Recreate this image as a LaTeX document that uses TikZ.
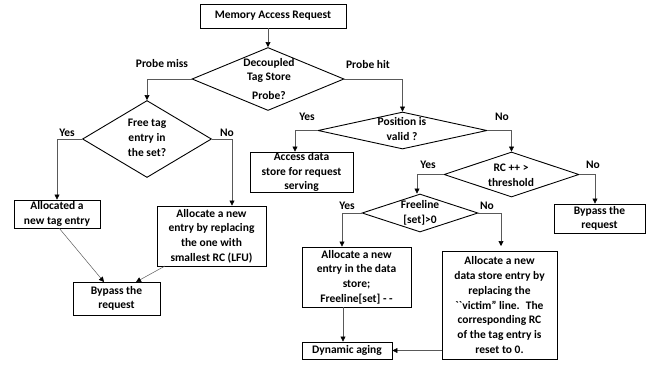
\documentclass[tikz,border=0pt]{standalone}
\usepackage{fontspec}
\setmainfont{Carlito}
\newfontfamily\rawfont[Ligatures=TeXOff]{Carlito}
\usetikzlibrary{shapes.geometric,arrows.meta}
\begin{document}
\begin{tikzpicture}[x=1pt,y=-1pt,
  font=\bfseries\fontsize{11.5}{14.7}\selectfont,
  box/.style={draw=black,line width=0.9pt,inner sep=0pt,align=center},
  dia/.style={draw=black,line width=0.9pt,diamond,inner sep=0pt},
  dtext/.style={align=center,inner sep=0pt},
  conn/.style={draw=black!65,line width=0.6pt,-{Triangle[black,length=5pt,width=5pt]}},
  lbl/.style={inner sep=0pt}]
\useasboundingbox (0,0) rectangle (651,365);
% top
\node[box,minimum width=146pt,minimum height=24pt] (mar) at (273,16) {Memory Access Request};
\node[dia,minimum width=152pt,minimum height=63pt] (dts) at (268,79) {};
\node[dtext] (dtst) at (269,79) {Decoupled\\[0pt]Tag Store\\[4pt]Probe?};
\draw[conn] (mar.south -| dts.north) -- (dts.north);
\node[lbl] (lmiss) at (162,64) {Probe miss};
\node[lbl] (lhit) at (368,65) {Probe hit};
% left branch
\node[dia,minimum width=129pt,minimum height=77pt] (ft) at (147,139) {};
\node[dtext] (ftt) at (147,138) {Free tag\\entry in\\the set?};
\draw[conn] (dts.west) -| (ft.north);
\node[lbl] (lyes1) at (67,133) {Yes};
\node[lbl] (lno1) at (227,133) {No};
\node[box,minimum width=86pt,minimum height=28pt] (ant) at (57,214) {Allocated a\\new tag entry};
\node[box,minimum width=109pt,minimum height=60pt] (anr) at (211.5,236) {Allocate a new\\entry by replacing\\the one with\\smallest RC (LFU)};
\node[box,minimum width=87pt,minimum height=33pt] (byl) at (116.5,298.5) {Bypass the\\request};
\coordinate (ftyes) at (57,139);
\coordinate (ftno) at (232,139);
\draw[conn] (ft.west) -- (ftyes) -- (ant.north);
\draw[conn] (ft.east) -- (ftno) -- (ftno |- anr.north);
\coordinate (antb) at (59,228);
\coordinate (byl1) at (104,282);
\coordinate (anrb) at (165,266);
\coordinate (byl2) at (136,282);
\draw[conn,line width=0.5pt] (antb) -- (byl1);
\draw[conn,line width=0.5pt] (anrb) -- (byl2);
% right branch
\node[dia,minimum width=169pt,minimum height=37pt] (pv) at (402.5,130.5) {};
\node[dtext] (pvt) at (402,129) {Position is\\valid ?};
\draw[conn] (dts.east) -| (pv.north);
\node[lbl] (lyes2) at (307,117) {Yes};
\node[lbl] (lno2) at (502,117) {No};
\node[box,minimum width=103pt,minimum height=40pt] (ads) at (301.5,172) {Access data\\store for request\\serving};
\coordinate (pvyes) at (295,130.5);
\draw[conn] (pv.west) -- (pvyes) -- (pvyes |- ads.north);
\node[dia,minimum width=135pt,minimum height=45pt] (rc) at (511.5,174.5) {};
\node[dtext] (rct) at (511,175) {RC ++ >\\threshold};
\draw[conn] (pv.east) -| (rc.north);
\node[lbl] (lyes3) at (428,165) {Yes};
\node[lbl] (lno3) at (593,165) {No};
\node[box,minimum width=91pt,minimum height=29pt] (byr) at (599.5,218.5) {Bypass the\\request};
\coordinate (rcno) at (595,174.5);
\draw[conn] (rc.east) -- (rcno) -- (rcno |- byr.north);
\node[dia,minimum width=116pt,minimum height=38pt] (fl) at (420,213) {};
\node[dtext] (flt) at (420,213) {Freeline\\\relax[set]>0};
\coordinate (rcyes) at (417,174.5);
\draw[conn] (rc.west) -- (rcyes) -- (rcyes |- fl.north);
\node[lbl] (lyes4) at (347,206) {Yes};
\node[lbl] (lno4) at (487,206) {No};
\node[box,minimum width=109pt,minimum height=60pt] (and) at (356.5,277) {Allocate a new\\entry in the data\\store;\\Freeline[set] - -};
\node[box,minimum width=115pt,minimum height=108pt] (vic) at (499.5,305) {Allocate a new\\data store entry by\\replacing the\\{\rawfont\bfseries ``}victim'' line.~ The\\corresponding RC\\of the tag entry is\\reset to 0.};
\node[box,minimum width=90pt,minimum height=17pt] (dyn) at (347,350.5) {Dynamic aging};
\coordinate (flyes) at (342,213);
\coordinate (flno) at (501,213);
\draw[conn] (fl.west) -- (flyes) -- (flyes |- and.north);
\draw[conn] (fl.east) -- (flno) -- (501,246);
\coordinate (andb) at (343,307);
\draw[conn] (andb) -- (andb |- dyn.north);
\draw[conn] (vic.west |- dyn.east) -- (dyn.east);
\end{tikzpicture}
\end{document}
